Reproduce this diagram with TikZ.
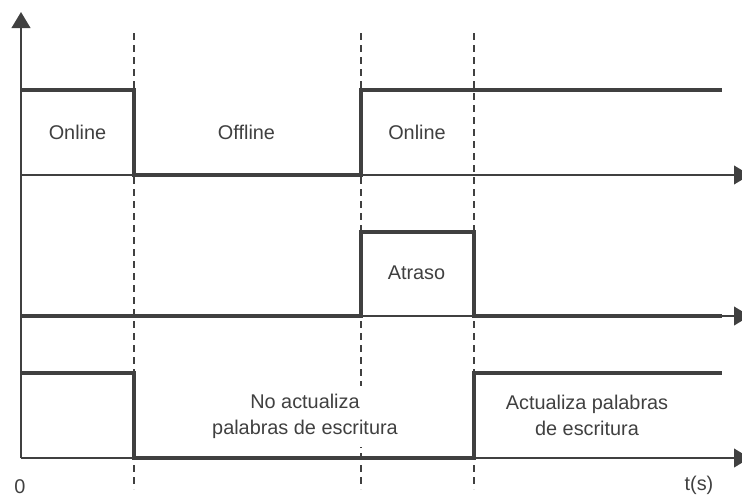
\documentclass[tikz,border=0pt]{standalone}
\usepackage{fontspec}
\setmainfont{Liberation Sans}
\usepackage{xcolor}
\usetikzlibrary{positioning,arrows.meta}
\definecolor{ink}{HTML}{404040}

\begin{document}
\begin{tikzpicture}[
    x=0.75pt, y=-0.75pt,
    axis/.style={draw=ink,line width=1.5pt,-{Triangle[length=12pt,width=14pt]}},
    signal/.style={draw=ink,line width=2.6pt},
    guide/.style={draw=ink,line width=0.9pt,dash pattern=on 5pt off 4pt},
    lbl/.style={text=ink,font=\fontsize{14.9}{19.3}\selectfont,align=center,inner sep=0pt},
    mask/.style={fill=white,inner sep=6pt}
  ]
    \useasboundingbox (0,0) rectangle (742,496);
    % axes
    \coordinate (o) at (21,458);
    \coordinate (ytop) at (21,12);
    \coordinate (a1) at (21,175);
    \coordinate (a2) at (21,316);
    \draw[axis] (o) -- (ytop);
    \draw[axis] (a1) -- (750,175);
    \draw[axis] (a2) -- (750,316);
    \draw[axis] (o) -- (750,458);
    % guides
    \foreach \x in {134,361,474}
      \draw[guide] (\x,33) -- (\x,489);
    % first signal
    \draw[signal] (21,90) -| (134,175) -- (361,175) |- (722,90);
    % second signal
    \draw[signal] (21,316) -- (361,316) |- (474,232) |- (722,316);
    % third signal
    \draw[signal] (21,373) -| (134,458) -- (474,458) |- (722,373);
    % labels
    \node[lbl] (on1) at (77.5,132) {Online};
    \node[lbl] (off) at (246.5,132) {Offline};
    \node[lbl] (on2) at (417,132) {Online};
    \node[lbl] (lag) at (416.5,273) {Atraso};
    \node[lbl,mask] (noupd) at (305,416.5) {No actualiza\\palabras de escritura};
    \node[lbl] (upd) at (587,415.5) {Actualiza palabras\\de escritura};
    \node[lbl] (zero) at (20,486.5) {0};
    \node[lbl] (time) at (699,485) {t(s)};
  \end{tikzpicture}
\end{document}
